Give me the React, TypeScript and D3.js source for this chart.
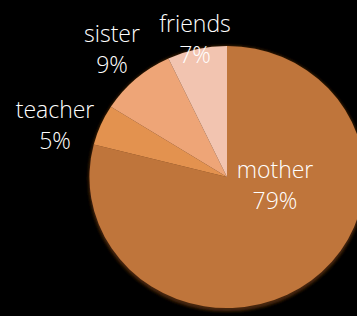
import React from "react";
import * as d3 from "d3";

const categories = ["mother", "teacher", "sister", "friends"];
const values = [79, 5, 9, 7];
const colors = ["#bf743a", "#e3924f", "#eea577", "#f2c4b0"];
// label anchor points (absolute, px) for each category
const labelX = [275, 55, 112, 195];
const labelY = [178, 118, 42, 32];

const W = 357;
const H = 316;
const cx = 227;
const cy = 177;
const R = 131;
const sx = 1.05;

export default function App() {
  const pie = d3.pie<number>().sort(null).value((d) => d)(values);
  const arc = d3.arc<d3.PieArcDatum<number>>().innerRadius(0).outerRadius(R);
  const font = "'Open Sans', 'Noto Sans', sans-serif";
  return (
    <div style={{ position: "fixed", left: 0, top: 0, width: W, height: H, background: "#000" }}>
      <svg width={W} height={H} style={{ display: "block" }}>
        <defs>
          <filter id="soft" x="-10%" y="-10%" width="120%" height="120%">
            <feGaussianBlur stdDeviation="0.7" />
          </filter>
          <filter id="shadow" x="-10%" y="-10%" width="120%" height="120%">
            <feGaussianBlur stdDeviation="1.6" />
          </filter>
        </defs>
        <rect width={W} height={H} fill="#000" />
        <g transform={`translate(${cx},${cy}) scale(${sx},1)`}>
          <ellipse cx={0} cy={1.5} rx={R + 1} ry={R + 2} fill="#4a2608" filter="url(#shadow)" />
          <g filter="url(#soft)">
            {pie.map((p, i) => (
              <path key={categories[i]} d={arc(p) || ""} fill={colors[i]} />
            ))}
          </g>
        </g>
        {categories.map((c, i) => (
          <text
            key={c}
            x={labelX[i]}
            y={labelY[i]}
            fill="#fff"
            fontFamily={font}
            fontWeight={300}
            fontSize={23}
            textAnchor="middle"
          >
            <tspan x={labelX[i]}>{c}</tspan>
            <tspan x={labelX[i]} dy={31}>{`${values[i]}%`}</tspan>
          </text>
        ))}
      </svg>
    </div>
  );
}
